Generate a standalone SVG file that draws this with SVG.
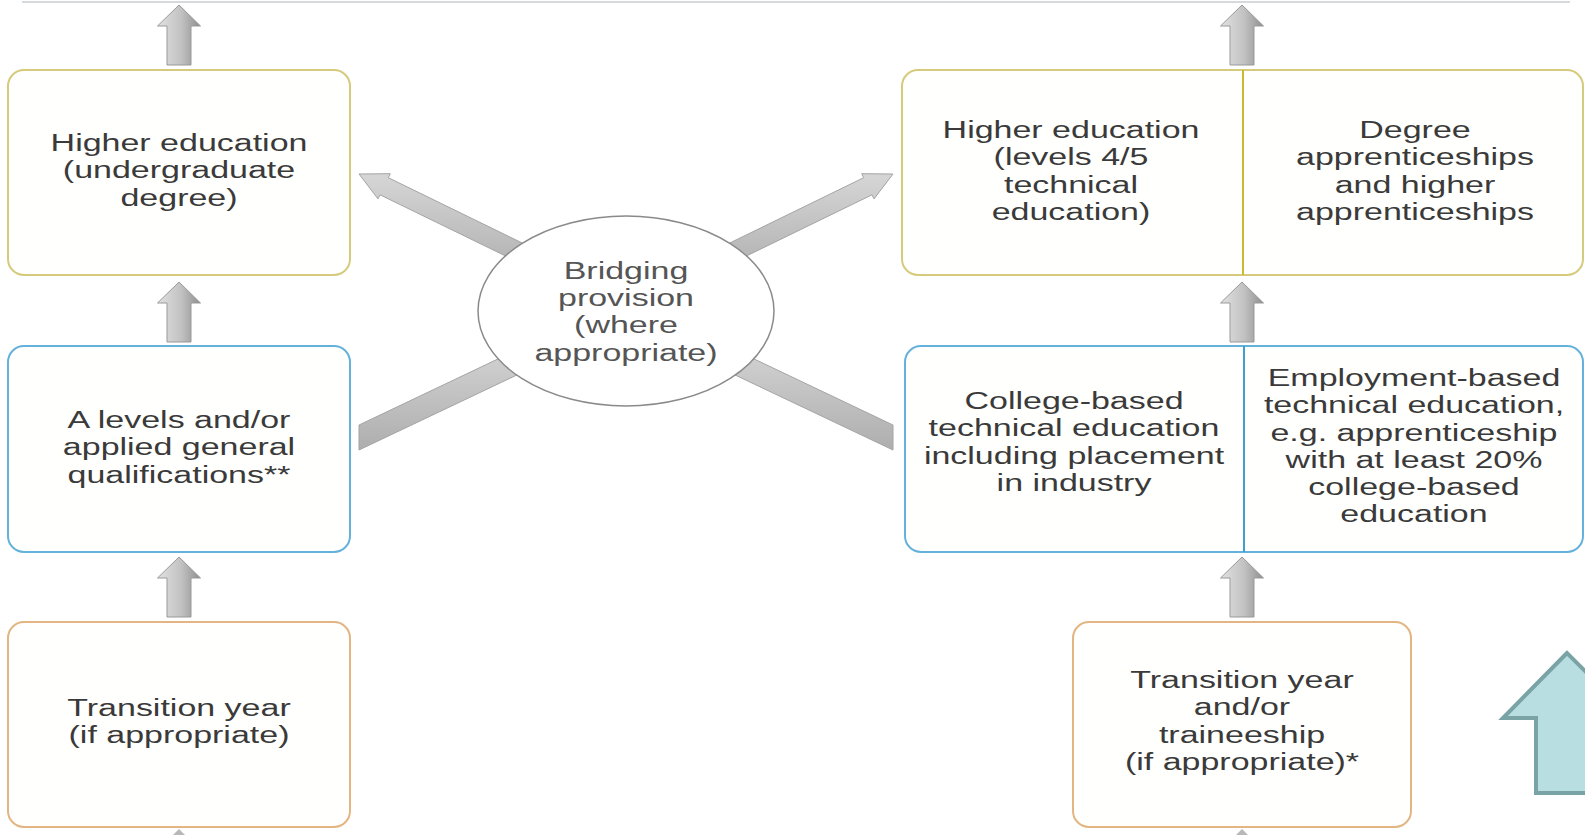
<svg xmlns="http://www.w3.org/2000/svg" width="1585" height="835" viewBox="0 0 1585 835">
<defs>
<linearGradient id="vg" x1="0" y1="0" x2="1" y2="0">
<stop offset="0" stop-color="#e2e2e2"/>
<stop offset="0.55" stop-color="#c2c2c2"/>
<stop offset="1" stop-color="#8e8e8e"/>
</linearGradient>
<linearGradient id="dg" x1="0" y1="0" x2="0" y2="1">
<stop offset="0" stop-color="#d6d6d6"/>
<stop offset="1" stop-color="#aeaeae"/>
</linearGradient>
<path id="uparrow" d="M0,0 L21.5,21 L12,21 L12,60 L-12,60 L-12,21 L-21.5,21 Z"/>
</defs>
<style>
.box{fill:#fffffd;stroke-width:2}
.yel{stroke:#d6ca7c}
.blu{stroke:#64b2dc}
.org{stroke:#e2b582}
.arr{fill:url(#vg);stroke:#999;stroke-width:1}
.diag{fill:url(#dg);stroke:#a4a4a4;stroke-width:1}
.t{font-family:"Liberation Sans",Arial,sans-serif;font-size:23.5px;fill:#3a3a3a;text-anchor:middle}
.te{fill:#555}
</style>
<line x1="22" y1="2" x2="1570" y2="2" stroke="#d6dadc" stroke-width="2"/>
<g id="connectors">
<use href="#uparrow" x="179" y="5" class="arr"/>
<use href="#uparrow" x="179" y="282" class="arr"/>
<use href="#uparrow" x="179" y="557" class="arr"/>
<use href="#uparrow" x="1242" y="5" class="arr"/>
<use href="#uparrow" x="1242" y="282" class="arr"/>
<use href="#uparrow" x="1242" y="557" class="arr"/>
<polygon points="179,829 173,835 185,835" fill="#b8b8b8"/>
<polygon points="1242,829 1236,835 1248,835" fill="#b8b8b8"/>
<polygon class="diag" points="359,174 378,198.9 380,194.8 552.6,278.9 561,261.9 388.3,177.7 390.3,173.7"/>
<polygon class="diag" points="893,174 874,198.9 872,194.8 699.4,278.9 691,261.9 863.7,177.7 861.7,173.7"/>
<polygon class="diag" points="359,425 359,450 540,364 540,339"/>
<polygon class="diag" points="893,425 893,450 712,364 712,339"/>
</g>
<g id="n-he-degree">
<rect class="box yel" x="8" y="70" width="342" height="205" rx="16"/>
<text class="t" transform="matrix(1.446 0 0 1 179 0)"><tspan x="0" y="151">Higher education</tspan><tspan x="0" y="178.5">(undergraduate</tspan><tspan x="0" y="206">degree)</tspan></text>
</g>
<g id="n-alevels">
<rect class="box blu" x="8" y="346" width="342" height="206" rx="16"/>
<text class="t" transform="matrix(1.446 0 0 1 179 0)"><tspan x="0" y="428">A levels and/or</tspan><tspan x="0" y="455.5">applied general</tspan><tspan x="0" y="483">qualifications**</tspan></text>
</g>
<g id="n-transition-left">
<rect class="box org" x="8" y="622" width="342" height="205" rx="16"/>
<text class="t" transform="matrix(1.446 0 0 1 179 0)"><tspan x="0" y="716">Transition year</tspan><tspan x="0" y="743.5">(if appropriate)</tspan></text>
</g>
<g id="n-bridging">
<ellipse cx="626" cy="311" rx="148" ry="95" fill="#fff" stroke="#8a8a8a" stroke-width="1.5"/>
<text class="t te" transform="matrix(1.446 0 0 1 626 0)"><tspan x="0" y="279">Bridging</tspan><tspan x="0" y="306">provision</tspan><tspan x="0" y="333.5">(where</tspan><tspan x="0" y="361">appropriate)</tspan></text>
</g>
<g id="n-he-technical">
<rect class="box yel" x="902" y="70" width="681" height="205" rx="16"/>
<line x1="1243" y1="70" x2="1243" y2="275" stroke="#c9bb2c" stroke-width="2"/>
<text class="t" transform="matrix(1.446 0 0 1 1071 0)"><tspan x="0" y="138">Higher education</tspan><tspan x="0" y="165.5">(levels 4/5</tspan><tspan x="0" y="193">technical</tspan><tspan x="0" y="220">education)</tspan></text>
<text class="t" transform="matrix(1.446 0 0 1 1415 0)"><tspan x="0" y="138">Degree</tspan><tspan x="0" y="165.5">apprenticeships</tspan><tspan x="0" y="193">and higher</tspan><tspan x="0" y="220">apprenticeships</tspan></text>
</g>
<g id="n-technical-education">
<rect class="box blu" x="905" y="346" width="678" height="206" rx="16"/>
<line x1="1244" y1="346" x2="1244" y2="552" stroke="#3f9fd2" stroke-width="2"/>
<text class="t" transform="matrix(1.446 0 0 1 1074 0)"><tspan x="0" y="409">College-based</tspan><tspan x="0" y="436.5">technical education</tspan><tspan x="0" y="464">including placement</tspan><tspan x="0" y="491">in industry</tspan></text>
<text class="t" transform="matrix(1.446 0 0 1 1414 0)"><tspan x="0" y="386">Employment-based</tspan><tspan x="0" y="413.5">technical education,</tspan><tspan x="0" y="441">e.g. apprenticeship</tspan><tspan x="0" y="468">with at least 20%</tspan><tspan x="0" y="495">college-based</tspan><tspan x="0" y="522.5">education</tspan></text>
</g>
<g id="n-transition-right">
<rect class="box org" x="1073" y="622" width="338" height="205" rx="16"/>
<text class="t" transform="matrix(1.446 0 0 1 1242 0)"><tspan x="0" y="688">Transition year</tspan><tspan x="0" y="715.5">and/or</tspan><tspan x="0" y="743">traineeship</tspan><tspan x="0" y="770">(if appropriate)*</tspan></text>
</g>
<g id="teal-arrow">
<polygon points="1567,653 1503,718 1536,718 1536,793 1600,793 1600,718 1632,718" fill="#b8dee2" stroke="#7aa3a6" stroke-width="4"/>
</g>
</svg>
